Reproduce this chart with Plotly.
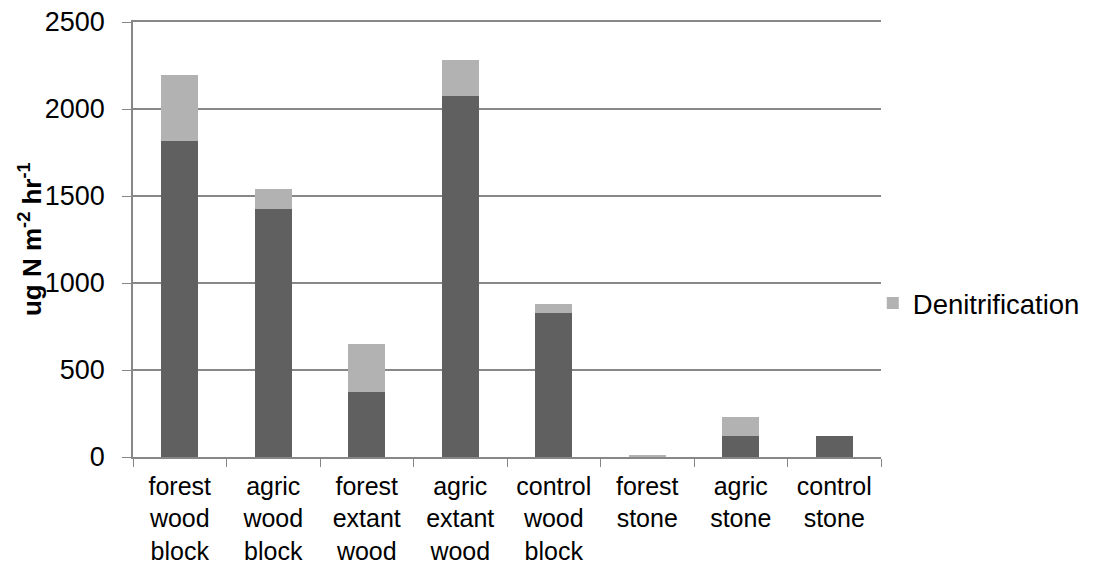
import plotly.graph_objects as go

categories = ["forest<br>wood<br>block", "agric<br>wood<br>block", "forest<br>extant<br>wood",
              "agric<br>extant<br>wood", "control<br>wood<br>block", "forest<br>stone",
              "agric<br>stone", "control<br>stone"]
other_values = [1816, 1425, 375, 2075, 829, 0, 119, 122]
denitrification = [379, 113, 273, 207, 48, 13, 111, 0]

fig = go.Figure()
fig.add_trace(go.Bar(x=categories, y=other_values, name="", showlegend=False,
                     marker=dict(color="#606060", line=dict(width=0))))
fig.add_trace(go.Bar(x=categories, y=denitrification, name="Denitrification",
                     marker=dict(color="#b2b2b2", line=dict(width=0))))

fig.update_layout(
    barmode="stack", bargap=0.6,
    width=1086, height=559,
    margin=dict(l=125, r=213, t=14, b=110, autoexpand=False),
    plot_bgcolor="white", paper_bgcolor="white",
    font=dict(family="Liberation Sans, Arial", color="black"),
    legend=dict(x=0.989, y=0.354, xanchor="left", yanchor="middle",
                font=dict(size=27.5), itemwidth=30, bgcolor="rgba(0,0,0,0)"),
    xaxis=dict(showline=True, mirror=True, linecolor="#878787", linewidth=1.5,
               ticks="outside", tickson="boundaries", ticklen=8, tickcolor="#878787",
               tickfont=dict(size=25), showgrid=False, ticklabelstandoff=6,
               automargin=False),
    yaxis=dict(range=[0, 2500], dtick=500, showline=True, linecolor="#878787", linewidth=1.5,
               ticks="outside", ticklen=9, tickcolor="#878787",
               gridcolor="#878787", gridwidth=1.5, ticklabeloverflow="allow",
               tickfont=dict(size=27), ticklabelstandoff=12, automargin=False),
    annotations=[dict(text="<b>ug N m<sup>-2</sup> hr<sup>-1</sup></b>",
                      xref="paper", yref="paper", x=-0.137, y=0.5,
                      xanchor="center", yanchor="middle", textangle=-90,
                      showarrow=False, font=dict(size=26))],
)

fig.write_html("out.html")
